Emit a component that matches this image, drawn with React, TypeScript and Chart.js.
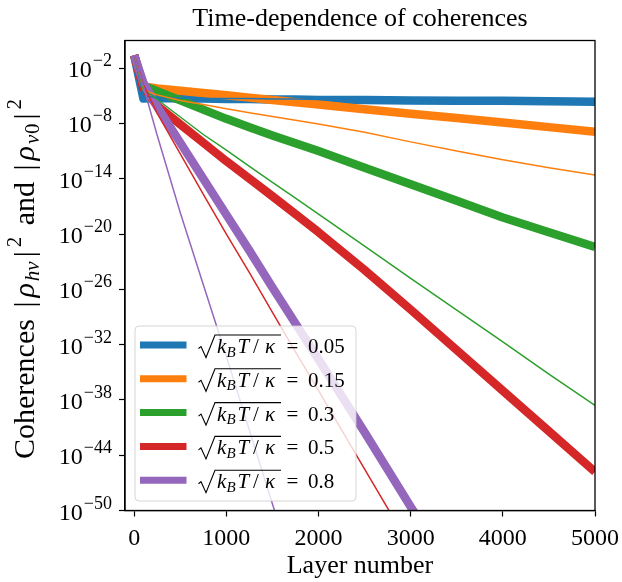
import React, { useEffect, useRef } from 'react';
import { Chart, registerables } from 'chart.js';

Chart.register(...registerables);

const LAYERS = [0, 100, 250, 500, 750, 1000, 1250, 1500, 1750, 2000, 2500, 3000, 3500, 4000, 4500, 5000];

// Legend values of sqrt(k_B T / kappa)
const TEMPS = ['0.05', '0.15', '0.3', '0.5', '0.8'];
const COLORS = ['#1f77b4', '#ff7f0e', '#2ca02c', '#d62728', '#9467bd'];

// log10 of coherence, thick curves (|rho_hv|^2)
const THICK_005 = [-0.6, -5.3, -5.25, -5.3, -5.3, -5.35, -5.35, -5.4, -5.4, -5.45, -5.45, -5.5, -5.55, -5.55, -5.6, -5.65];
const THICK_015 = [-0.6, -4.0, -4.2, -4.45, -4.7, -4.95, -5.2, -5.45, -5.7, -5.95, -6.45, -6.95, -7.4, -7.9, -8.4, -8.9];
const THICK_03 = [-0.6, -3.9, -4.5, -5.5, -6.5, -7.5, -8.4, -9.3, -10.15, -11.0, -12.8, -14.6, -16.4, -18.2, -19.8, -21.4];
const THICK_05 = [-0.6, -4.2, -6.1, -8.1, -10.1, -12.1, -14.0, -15.9, -17.85, -19.8, -23.9, -28.2, -32.6, -37.0, -41.4, -45.8];
const THICK_08 = [-0.6, -3.6, -6.2, -10.1, -14.0, -17.9, -21.8, -25.8, -29.7, -33.6, -41.5, -49.6, -57.3, null, null, null];

// log10 of coherence, thin curves (|rho_v0|^2)
const THIN_005 = [-0.6, -5.0, -5.2, -5.25, -5.3, -5.3, -5.3, -5.35, -5.35, -5.4, -5.4, -5.45, -5.5, -5.5, -5.55, -5.6];
const THIN_015 = [-0.6, -4.4, -4.9, -5.5, -5.95, -6.4, -6.85, -7.25, -7.65, -8.05, -8.95, -10.0, -11.0, -11.95, -12.8, -13.6];
const THIN_03 = [-0.6, -4.3, -5.4, -7.3, -9.2, -10.9, -12.65, -14.4, -16.1, -17.85, -21.3, -24.8, -28.25, -31.7, -35.2, -38.6];
const THIN_05 = [-0.6, -3.8, -6.9, -11.3, -15.7, -20.0, -24.2, -28.5, -32.8, -37.0, -45.5, -54.0, null, null, null, null];
const THIN_08 = [-0.6, -4.0, -9.3, -17.7, -25.5, -33.3, -41.3, -49.3, -57.0, null, null, null, null, null, null, null];

const THICK = [THICK_005, THICK_015, THICK_03, THICK_05, THICK_08];
const THIN = [THIN_005, THIN_015, THIN_03, THIN_05, THIN_08];

const X_TICKS = [0, 1000, 2000, 3000, 4000, 5000];
const Y_TICK_EXPONENTS = [-2, -8, -14, -20, -26, -32, -38, -44, -50];

const SERIF = '"Liberation Serif", "Times New Roman", serif';
const f = (size: number, italic = false) => `${italic ? 'italic ' : ''}${size}px ${SERIF}`;

function toPoints(vals: (number | null)[]) {
  return LAYERS.map((x, i) => ({ x, y: vals[i] == null ? null : Math.pow(10, vals[i] as number) }));
}

const decorPlugin = {
  id: 'decor',
  afterDatasetsDraw(chart: any) {
    const { ctx, chartArea: a, scales } = chart;
    ctx.save();
    // frame (all four spines)
    ctx.strokeStyle = '#000';
    ctx.lineWidth = 1.3;
    ctx.strokeRect(a.left, a.top, a.right - a.left, a.bottom - a.top);

    // y tick labels 10^{e}
    const ys = scales.y;
    ctx.fillStyle = '#000';
    ctx.textAlign = 'left';
    ctx.textBaseline = 'alphabetic';
    for (const e of Y_TICK_EXPONENTS) {
      const py = ys.getPixelForValue(Math.pow(10, e));
      const sup = '\u2212' + Math.abs(e);
      ctx.font = f(18);
      const sw = ctx.measureText(sup).width;
      ctx.font = f(24);
      const tw = ctx.measureText('10').width;
      const right = a.left - 13;
      ctx.fillText('10', right - sw - 1 - tw, py + 9);
      ctx.font = f(18);
      ctx.fillText(sup, right - sw, py - 2);
    }

    // y axis title with math
    const segs: { t: string; size: number; italic?: boolean; dy: number; gap: number }[] = [
      { t: 'Coherences', size: 30, dy: 0, gap: 0 },
      { t: ' ', size: 30, dy: 0, gap: 1 },
      { t: '|', size: 30, dy: 0, gap: 1 },
      { t: '\u03c1', size: 30, italic: true, dy: 0, gap: 0.5 },
      { t: 'hv', size: 21, italic: true, dy: 5, gap: 1 },
      { t: '|', size: 30, dy: 0, gap: 1 },
      { t: '2', size: 21, dy: -13, gap: 1 },
      { t: ' and ', size: 30, dy: 0, gap: 1 },
      { t: '|', size: 30, dy: 0, gap: 1 },
      { t: '\u03c1', size: 30, italic: true, dy: 0, gap: 0.5 },
      { t: 'v', size: 21, italic: true, dy: 5, gap: 0.2 },
      { t: '0', size: 21, dy: 5, gap: 1 },
      { t: '|', size: 30, dy: 0, gap: 1 },
      { t: '2', size: 21, dy: -13, gap: 0 },
    ];
    const TARGET = 376;
    let natural = 0;
    let gapSum = 0;
    const raw = segs.map((s) => {
      ctx.font = f(s.size, s.italic);
      const w = ctx.measureText(s.t).width;
      natural += w;
      gapSum += s.gap;
      return w;
    });
    const unit = gapSum > 0 ? Math.min(4, Math.max(0, TARGET - natural) / gapSum) : 0;
    const total = natural + unit * gapSum;
    ctx.save();
    ctx.translate(34, 279);
    ctx.rotate(-Math.PI / 2);
    let cx = -total / 2;
    segs.forEach((s, i) => {
      ctx.font = f(s.size, s.italic);
      ctx.fillText(s.t, cx, s.dy);
      cx += raw[i] + s.gap * unit;
    });
    ctx.restore();

    // legend
    const LX = 135, LY = 326, LW = 221, LH = 175;
    ctx.beginPath();
    ctx.roundRect(LX, LY, LW, LH, 4);
    ctx.fillStyle = 'rgba(255,255,255,0.8)';
    ctx.fill();
    ctx.strokeStyle = 'rgba(204,204,204,0.8)';
    ctx.lineWidth = 1;
    ctx.stroke();
    TEMPS.forEach((label, i) => {
      const cy = 345 + i * 33.8;
      ctx.beginPath();
      ctx.strokeStyle = COLORS[i];
      ctx.lineWidth = 7;
      ctx.lineCap = 'butt';
      ctx.moveTo(140, cy);
      ctx.lineTo(186.5, cy);
      ctx.stroke();
      // radical
      ctx.beginPath();
      ctx.strokeStyle = '#000';
      ctx.lineWidth = 1.1;
      ctx.lineJoin = 'miter';
      ctx.moveTo(198.5, cy + 3.5);
      ctx.lineTo(201, cy + 1.5);
      ctx.lineTo(206, cy + 12.5);
      ctx.lineTo(215, cy - 10);
      ctx.lineTo(281, cy - 10);
      ctx.stroke();
      ctx.fillStyle = '#000';
      const base = cy + 8;
      ctx.font = f(21, true);
      ctx.fillText('k', 217, base);
      ctx.font = f(15, true);
      ctx.fillText('B', 226.5, base + 3.5);
      ctx.font = f(21, true);
      ctx.fillText('T', 237.5, base);
      ctx.font = f(21);
      ctx.fillText('/', 253, base);
      ctx.font = f(21, true);
      ctx.fillText('\u03ba', 265, base);
      ctx.font = f(21);
      ctx.fillText('=', 286.5, base);
      ctx.fillText(label, 308, base);
    });
    ctx.restore();
  },
};

export default function App() {
  const ref = useRef<HTMLCanvasElement>(null);
  useEffect(() => {
    if (!ref.current) return;
    const list: any[] = [];
    THICK.forEach((vals, i) => {
      list.push({
        label: 'thick ' + TEMPS[i],
        data: toPoints(vals),
        borderColor: COLORS[i],
        backgroundColor: COLORS[i],
        borderWidth: 8.5,
      });
    });
    THIN.forEach((vals, i) => {
      list.push({
        label: 'thin ' + TEMPS[i],
        data: toPoints(vals),
        borderColor: COLORS[i],
        backgroundColor: COLORS[i],
        borderWidth: 1.5,
      });
    });
    const datasets = list.map((d, i) => ({
      ...d,
      order: list.length - i,
      pointRadius: 0,
      pointHoverRadius: 0,
      tension: 0,
      fill: false,
      spanGaps: false,
      clip: 0,
      borderJoinStyle: 'round',
      borderCapStyle: 'butt',
    }));
    const chart = new Chart(ref.current, {
      type: 'line',
      data: { datasets },
      options: {
        animation: false,
        responsive: false,
        devicePixelRatio: 1,
        events: [],
        layout: { padding: { top: 0, right: 0, bottom: 0, left: 0 } },
        plugins: {
          legend: { display: false },
          tooltip: { enabled: false },
          title: {
            display: true,
            text: 'Time-dependence of coherences',
            color: '#000',
            fullSize: false,
            font: { family: SERIF, size: 26, weight: 'normal' },
            padding: { top: 4, bottom: 5.3 },
          },
        },
        scales: {
          x: {
            type: 'linear',
            min: -100,
            max: 5000,
            afterBuildTicks: (s: any) => {
              s.ticks = X_TICKS.map((v) => ({ value: v }));
            },
            afterFit: (s: any) => {
              s.height = 71.5;
              s.paddingRight = 27;
              s.paddingLeft = 0;
            },
            ticks: {
              color: '#000',
              font: { family: SERIF, size: 24 },
              padding: 8,
              maxRotation: 0,
              autoSkip: false,
              callback: (v: any) => String(v),
            },
            grid: {
              drawOnChartArea: false,
              drawTicks: true,
              tickLength: 6,
              tickColor: '#000',
              tickWidth: 1.2,
            },
            border: { display: true, color: '#000', width: 1.3 },
            title: {
              display: true,
              text: 'Layer number',
              color: '#000',
              font: { family: SERIF, size: 26 },
              padding: { top: 0, bottom: 0 },
            },
          },
          y: {
            type: 'logarithmic',
            min: 1e-50,
            max: 10,
            afterBuildTicks: (s: any) => {
              s.ticks = Y_TICK_EXPONENTS.map((e) => ({ value: Math.pow(10, e) }));
            },
            afterFit: (s: any) => {
              s.width = 125;
              s.paddingTop = 0;
              s.paddingBottom = 0;
            },
            ticks: { callback: () => '', padding: 0 },
            grid: {
              drawOnChartArea: false,
              drawTicks: true,
              tickLength: 6,
              tickColor: '#000',
              tickWidth: 1.2,
            },
            border: { display: true, color: '#000', width: 1.3 },
          },
        },
      },
      plugins: [decorPlugin],
    } as any);
    return () => chart.destroy();
  }, []);
  return (
    <div style={{ position: 'fixed', left: 0, top: 0, width: 622, height: 582, background: '#fff' }}>
      <canvas ref={ref} width={622} height={582} />
    </div>
  );
}
